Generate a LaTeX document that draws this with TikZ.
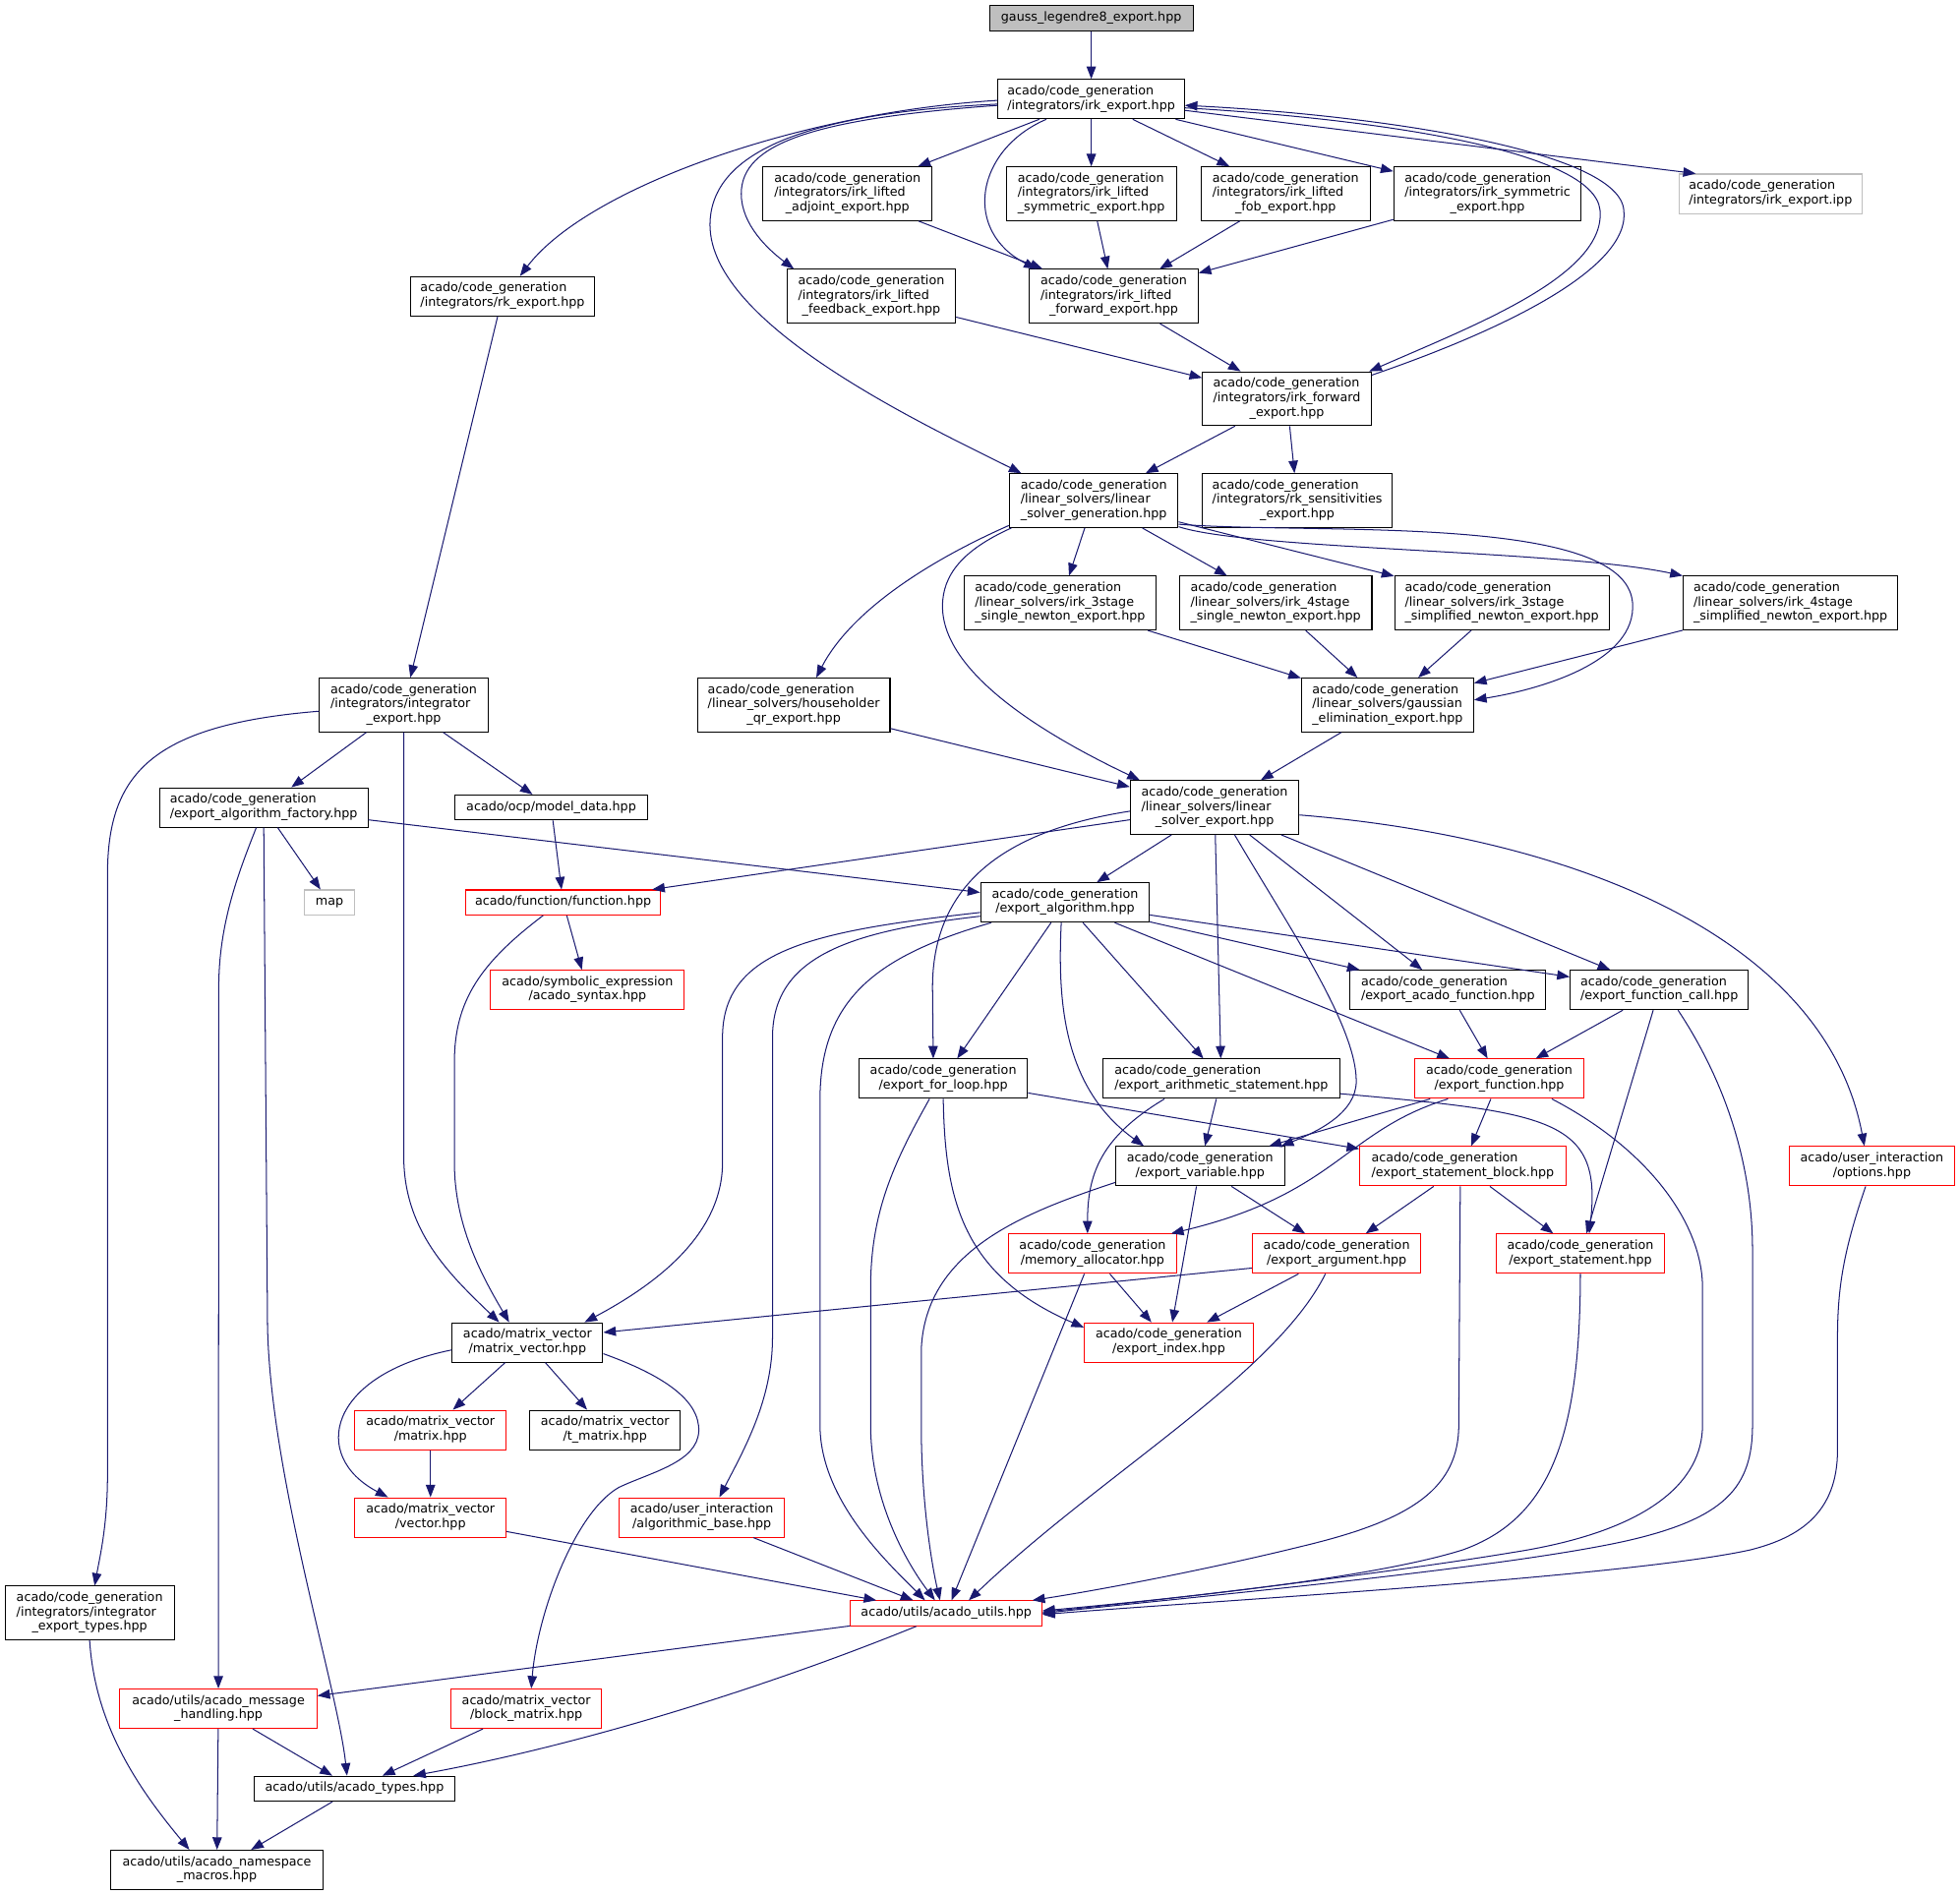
\documentclass[tikz,border=0pt]{standalone}
\usepackage{fontspec}
\setmainfont{DejaVu Sans}
\usetikzlibrary{arrows.meta}
\definecolor{edgeblue}{RGB}{25, 25, 112}
\definecolor{truncred}{RGB}{255, 0, 0}
\definecolor{extgrey}{RGB}{191, 191, 191}
\newcommand{\lastln}[1]{\multicolumn{1}{@{}c@{}}{#1}}
\newcommand{\fname}[1]{\begin{tabular}{@{}l@{}}#1\end{tabular}}
\tikzset{
  file/.style={draw=black, fill=white, line width=0.8pt, inner xsep=3pt, inner ysep=4.25pt,
    minimum width=135pt, font=\fontsize{10pt}{11.5pt}\selectfont},
  redfile/.style={file, draw=truncred},
  greyfile/.style={file, draw=extgrey},
  dep/.style={draw=edgeblue, line width=0.8pt, -{Triangle[length=10pt, width=7.5pt]}}
}

\begin{document}
\begin{tikzpicture}[x=1pt, y=-1pt]
  \fill[white] (0,0) rectangle (1568,1516);

  % Integrator headers
  \node[file, fill=extgrey, minimum width=163pt] (gauss) at (873,14.7) {\fname{gauss\_legendre8\_export.hpp}};
  \node[file, minimum width=149pt] (irkexp) at (873,79.3) {\fname{acado/code\_generation\\\lastln{/integrators/irk\_export.hpp}}};
  \node[file] (adjoint) at (678,155) {\fname{acado/code\_generation\\/integrators/irk\_lifted\\\lastln{\_adjoint\_export.hpp}}};
  \node[file, minimum width=136pt] (lsym) at (873,155) {\fname{acado/code\_generation\\/integrators/irk\_lifted\\\lastln{\_symmetric\_export.hpp}}};
  \node[file] (fob) at (1028.5,155) {\fname{acado/code\_generation\\/integrators/irk\_lifted\\\lastln{\_fob\_export.hpp}}};
  \node[file, minimum width=150pt] (irksym) at (1190,155) {\fname{acado/code\_generation\\/integrators/irk\_symmetric\\\lastln{\_export.hpp}}};
  \node[greyfile, minimum width=146.8pt] (ipp) at (1416.4,155) {\fname{acado/code\_generation\\\lastln{/integrators/irk\_export.ipp}}};
  \node[file, minimum width=147.5pt] (rkexp) at (402,237) {\fname{acado/code\_generation\\\lastln{/integrators/rk\_export.hpp}}};
  \node[file] (feedback) at (697,237) {\fname{acado/code\_generation\\/integrators/irk\_lifted\\\lastln{\_feedback\_export.hpp}}};
  \node[file] (lfwd) at (891,237) {\fname{acado/code\_generation\\/integrators/irk\_lifted\\\lastln{\_forward\_export.hpp}}};
  \node[file] (irkfwd) at (1029.5,319) {\fname{acado/code\_generation\\/integrators/irk\_forward\\\lastln{\_export.hpp}}};
  \node[file, minimum width=152pt] (rksens) at (1037.8,400.5) {\fname{acado/code\_generation\\/integrators/rk\_sensitivities\\\lastln{\_export.hpp}}};
  \node[file] (intexp) at (323,564) {\fname{acado/code\_generation\\/integrators/integrator\\\lastln{\_export.hpp}}};
  \node[file, minimum width=135.5pt] (intypes) at (71.7,1290.5) {\fname{acado/code\_generation\\/integrators/integrator\\\lastln{\_export\_types.hpp}}};

  % Linear solvers
  \node[file] (lsg) at (875,400.5) {\fname{acado/code\_generation\\/linear\_solvers/linear\\\lastln{\_solver\_generation.hpp}}};
  \node[file, minimum width=153pt] (s3single) at (848,482.5) {\fname{acado/code\_generation\\/linear\_solvers/irk\_3stage\\\lastln{\_single\_newton\_export.hpp}}};
  \node[file, minimum width=154pt] (s4single) at (1020.5,482.5) {\fname{acado/code\_generation\\/linear\_solvers/irk\_4stage\\\lastln{\_single\_newton\_export.hpp}}};
  \node[file, minimum width=171.7pt] (s3simp) at (1201.5,482.5) {\fname{acado/code\_generation\\/linear\_solvers/irk\_3stage\\\lastln{\_simplified\_newton\_export.hpp}}};
  \node[file, minimum width=171.8pt] (s4simp) at (1432.4,482.5) {\fname{acado/code\_generation\\/linear\_solvers/irk\_4stage\\\lastln{\_simplified\_newton\_export.hpp}}};
  \node[file, minimum width=154pt] (householder) at (635,564) {\fname{acado/code\_generation\\/linear\_solvers/householder\\\lastln{\_qr\_export.hpp}}};
  \node[file, minimum width=137.7pt] (gaussian) at (1110,564) {\fname{acado/code\_generation\\/linear\_solvers/gaussian\\\lastln{\_elimination\_export.hpp}}};
  \node[file] (lse) at (971.7,646) {\fname{acado/code\_generation\\/linear\_solvers/linear\\\lastln{\_solver\_export.hpp}}};

  % Export classes
  \node[file, minimum width=166.5pt] (factory) at (211,646) {\fname{acado/code\_generation\\\lastln{/export\_algorithm\_factory.hpp}}};
  \node[file, minimum width=154pt] (modeldata) at (441,646) {\fname{acado/ocp/model\_data.hpp}};
  \node[greyfile, minimum width=40pt] (map) at (263.6,722) {\fname{map}};
  \node[redfile, minimum width=156pt] (function) at (450.5,722) {\fname{acado/function/function.hpp}};
  \node[file] (ealg) at (852,722) {\fname{acado/code\_generation\\\lastln{/export\_algorithm.hpp}}};
  \node[redfile, minimum width=155pt] (syntax) at (470,792) {\fname{acado/symbolic\_expression\\\lastln{/acado\_syntax.hpp}}};
  \node[file, minimum width=156.5pt] (eacfun) at (1158.4,792) {\fname{acado/code\_generation\\\lastln{/export\_acado\_function.hpp}}};
  \node[file, minimum width=142.6pt] (efcall) at (1327.4,792) {\fname{acado/code\_generation\\\lastln{/export\_function\_call.hpp}}};
  \node[file] (forloop) at (754.6,863) {\fname{acado/code\_generation\\\lastln{/export\_for\_loop.hpp}}};
  \node[file, minimum width=190pt] (arith) at (977,863) {\fname{acado/code\_generation\\\lastln{/export\_arithmetic\_statement.hpp}}};
  \node[redfile, minimum width=135.6pt] (efun) at (1199.4,863) {\fname{acado/code\_generation\\\lastln{/export\_function.hpp}}};
  \node[file] (evar) at (960,933) {\fname{acado/code\_generation\\\lastln{/export\_variable.hpp}}};
  \node[redfile, minimum width=164.8pt] (sblock) at (1170.2,933) {\fname{acado/code\_generation\\\lastln{/export\_statement\_block.hpp}}};
  \node[redfile, minimum width=132.5pt] (options) at (1497.5,933) {\fname{acado/user\_interaction\\\lastln{/options.hpp}}};
  \node[redfile] (memalloc) at (874,1003) {\fname{acado/code\_generation\\\lastln{/memory\_allocator.hpp}}};
  \node[redfile] (eargs) at (1069.3,1003) {\fname{acado/code\_generation\\\lastln{/export\_argument.hpp}}};
  \node[redfile] (estmt) at (1264.3,1003) {\fname{acado/code\_generation\\\lastln{/export\_statement.hpp}}};
  \node[redfile] (eindex) at (935,1074) {\fname{acado/code\_generation\\\lastln{/export\_index.hpp}}};

  % Matrix / utils
  \node[file, minimum width=120.5pt] (mv) at (422,1074) {\fname{acado/matrix\_vector\\\lastln{/matrix\_vector.hpp}}};
  \node[redfile, minimum width=121pt] (matrix) at (344.4,1144) {\fname{acado/matrix\_vector\\\lastln{/matrix.hpp}}};
  \node[file, minimum width=120.5pt] (tmatrix) at (484,1144) {\fname{acado/matrix\_vector\\\lastln{/t\_matrix.hpp}}};
  \node[redfile, minimum width=121pt] (vector) at (344.4,1214) {\fname{acado/matrix\_vector\\\lastln{/vector.hpp}}};
  \node[redfile, minimum width=132.4pt] (algbase) at (561.5,1214) {\fname{acado/user\_interaction\\\lastln{/algorithmic\_base.hpp}}};
  \node[redfile, minimum width=153pt] (utils) at (757,1290.7) {\fname{acado/utils/acado\_utils.hpp}};
  \node[redfile, minimum width=157.7pt] (message) at (174.7,1367) {\fname{acado/utils/acado\_message\\\lastln{\_handling.hpp}}};
  \node[redfile, minimum width=120.5pt] (blockm) at (421,1367) {\fname{acado/matrix\_vector\\\lastln{/block\_matrix.hpp}}};
  \node[file, minimum width=160.5pt] (types) at (283.6,1431) {\fname{acado/utils/acado\_types.hpp}};
  \node[file, minimum width=170pt] (nsmacros) at (173.5,1496) {\fname{acado/utils/acado\_namespace\\\lastln{\_macros.hpp}}};

  % irk_export includes
  \draw[dep] (gauss) -- (irkexp);
  \draw[dep] ([shift={(0,1)}]irkexp.west) .. controls (640,90) and (470,150) .. ([shift={(14,0)}]rkexp.north);
  \draw[dep] (irkexp) -- (adjoint);
  \draw[dep] (irkexp) -- (lsym);
  \draw[dep] (irkexp) -- (fob);
  \draw[dep] (irkexp) -- (irksym);
  \draw[dep] ([shift={(0,9)}]irkexp.east) -- ([shift={(14,0)}]ipp.north west);
  \draw[dep] ([shift={(0,5)}]irkexp.west) .. controls (650,95) and (593,115) .. (593,155) .. controls (593,180) and (615,200) .. ([shift={(6,0)}]feedback.north west);
  \draw[dep] ([shift={(-36,0)}]irkexp.south) .. controls (780,120) and (770,185) .. ([shift={(6,0)}]lfwd.north west);
  \draw[dep] ([shift={(0,4)}]irkexp.west) .. controls (650,90) and (568,120) .. (568,180) .. controls (568,260) and (740,340) .. ([shift={(10,0)}]lsg.north west);
  \draw[dep] ([shift={(0,7)}]irkexp.east) .. controls (1100,95) and (1275,120) .. (1280,168) .. controls (1285,220) and (1180,260) .. ([shift={(-2,0)}]irkfwd.north east);
  \draw[dep] ([shift={(0,3)}]irkfwd.north east) .. controls (1200,265) and (1305,215) .. (1299,168) .. controls (1295,120) and (1100,92) .. ([shift={(0,5)}]irkexp.east);

  % lifted variants
  \draw[dep] (adjoint) -- (lfwd);
  \draw[dep] (lsym) -- (lfwd);
  \draw[dep] (fob) -- (lfwd);
  \draw[dep] (irksym) -- (lfwd);
  \draw[dep] (feedback) -- (irkfwd);
  \draw[dep] (lfwd) -- (irkfwd);
  \draw[dep] (irkfwd) -- (lsg);
  \draw[dep] (irkfwd) -- (rksens);
  \draw[dep] (rkexp) -- (intexp);

  % linear solver generation
  \draw[dep] (lsg) -- (s3single);
  \draw[dep] (lsg) -- (s4single);
  \draw[dep] (lsg) -- (s3simp);
  \draw[dep] ([shift={(0,-1)}]lsg.south east) .. controls (1000,440) and (1250,440) .. (s4simp.north west);
  \draw[dep] ([shift={(0,-3)}]lsg.south east) .. controls (1050,428) and (1300,410) .. (1306,482) .. controls (1310,530) and (1230,552) .. ([shift={(0,-4)}]gaussian.east);
  \draw[dep] ([shift={(0,-2)}]lsg.south west) .. controls (740,450) and (680,490) .. ([shift={(18,0)}]householder.north);
  \draw[dep] ([shift={(2,0)}]lsg.south west) .. controls (770,440) and (754,460) .. (754,485) .. controls (754,540) and (840,590) .. ([shift={(8,0)}]lse.north west);
  \draw[dep] (s3single) -- (gaussian);
  \draw[dep] (s4single) -- (gaussian);
  \draw[dep] (s3simp) -- (gaussian);
  \draw[dep] (s4simp) -- (gaussian);
  \draw[dep] (householder) -- (lse);
  \draw[dep] (gaussian) -- (lse);

  % integrator export
  \draw[dep] (intexp) -- (factory);
  \draw[dep] (intexp) -- (modeldata);
  \draw[dep] (intexp.south) -- (323,925) .. controls (323,985) and (360,1020) .. ([shift={(38,0)}]mv.north west);
  \draw[dep] ([shift={(0,5)}]intexp.west) .. controls (120,580) and (86,620) .. (86,700) -- (86,1180) .. controls (86,1220) and (80,1245) .. ([shift={(4,0)}]intypes.north);

  % algorithm factory
  \draw[dep] (factory) -- (map);
  \draw[dep] (factory) -- (ealg);
  \draw[dep] ([shift={(-6,0)}]factory.south) .. controls (190,700) and (175,740) .. (175,790) -- (message.north);
  \draw[dep] (factory.south) -- (214,1060) .. controls (216,1180) and (270,1350) .. ([shift={(-6,0)}]types.north);

  % model data, function
  \draw[dep] (modeldata) -- (function);
  \draw[dep] (function) -- (syntax);
  \draw[dep] ([shift={(-16,0)}]function.south) .. controls (385,770) and (363.5,800) .. (363.5,850) -- (363.5,930) .. controls (363.5,980) and (385,1020) .. ([shift={(46,0)}]mv.north west);

  % linear solver export
  \draw[dep] (lse) -- (function);
  \draw[dep] (lse) -- (ealg);
  \draw[dep] ([shift={(0,3)}]lse.west) .. controls (800,665) and (746,710) .. (746,790) -- ([shift={(-8,0)}]forloop.north);
  \draw[dep] (lse) -- (arith);
  \draw[dep] ([shift={(16,0)}]lse.south) .. controls (1030,740) and (1085,820) .. (1085,865) .. controls (1085,890) and (1055,905) .. ([shift={(-3,0)}]evar.north east);
  \draw[dep] (lse) -- (eacfun);
  \draw[dep] (lse) -- (efcall);
  \draw[dep] ([shift={(0,6)}]lse.east) .. controls (1260,670) and (1460,750) .. ([shift={(-6,0)}]options.north);

  % export algorithm
  \draw[dep] (ealg) -- (forloop);
  \draw[dep] (ealg) -- (arith);
  \draw[dep] ([shift={(-3,0)}]ealg.south) .. controls (846,800) and (850,870) .. ([shift={(23,0)}]evar.north west);
  \draw[dep] (ealg) -- (eacfun);
  \draw[dep] (ealg) -- (efcall);
  \draw[dep] (ealg) -- (efun);
  \draw[dep] ([shift={(0,8)}]ealg.west) .. controls (650,745) and (578,760) .. (578,830) -- (578,930) .. controls (578,990) and (520,1030) .. ([shift={(-15,0)}]mv.north east);
  \draw[dep] ([shift={(0,11)}]ealg.west) .. controls (680,745) and (618,765) .. (618,830) -- (618,1070) .. controls (618,1120) and (595,1160) .. ([shift={(14,0)}]algbase.north);
  \draw[dep] ([shift={(9,0)}]ealg.south west) .. controls (700,765) and (656,800) .. (656,880) -- (656,1140) .. controls (656,1200) and (710,1250) .. ([shift={(-17,0)}]utils.north);

  % acado function, function call
  \draw[dep] (eacfun) -- (efun);
  \draw[dep] (efcall) -- (efun);
  \draw[dep] (efcall) -- (estmt);
  \draw[dep] ([shift={(15,0)}]efcall.south) .. controls (1390,880) and (1402,950) .. (1402,1000) -- (1402,1140) .. controls (1402,1190) and (1380,1215) .. (1300,1233) .. controls (1200,1255) and (950,1278) .. (utils.east);

  % for loop
  \draw[dep] ([shift={(-11,0)}]forloop.south) .. controls (715,930) and (696.5,970) .. (696.5,1030) -- (696.5,1140) .. controls (696.5,1200) and (725,1250) .. ([shift={(-9,0)}]utils.north);
  \draw[dep] (forloop.south) .. controls (756,960) and (770,1020) .. ([shift={(0,-12)}]eindex.west);
  \draw[dep] (forloop) -- (sblock);

  % arithmetic statement
  \draw[dep] (arith) -- (evar);
  \draw[dep] ([shift={(50,0)}]arith.south west) .. controls (880,910) and (870,940) .. ([shift={(-4,0)}]memalloc.north);
  \draw[dep] ([shift={(0,12)}]arith.east) .. controls (1240,890) and (1282,895) .. ([shift={(7,0)}]estmt.north);

  % export function
  \draw[dep] (efun) -- (evar);
  \draw[dep] (efun) -- (sblock);
  \draw[dep] ([shift={(-41,0)}]efun.south) .. controls (1075,905) and (1070,955) .. ([shift={(-5,0)}]memalloc.north east);
  \draw[dep] ([shift={(42,0)}]efun.south) .. controls (1320,920) and (1362,980) .. (1362,1030) -- (1362,1140) .. controls (1362,1185) and (1320,1225) .. (1210,1242) .. controls (1120,1257) and (950,1278) .. ([shift={(0,-1)}]utils.east);

  % export variable
  \draw[dep] (evar) -- (eargs);
  \draw[dep] (evar) -- (eindex);
  \draw[dep] ([shift={(0,13)}]evar.west) .. controls (820,970) and (740,1000) .. (737,1080) -- (737,1140) .. controls (737,1200) and (745,1250) .. ([shift={(-5,0)}]utils.north);

  % statement block
  \draw[dep] (sblock) -- (eargs);
  \draw[dep] (sblock) -- (estmt);
  \draw[dep] ([shift={(-2,0)}]sblock.south) -- (1167,1140) .. controls (1167,1190) and (1130,1215) .. (1050,1235) .. controls (970,1255) and (880,1272) .. ([shift={(-8,0)}]utils.north east);

  % allocator, argument, statement, options
  \draw[dep] (memalloc) -- (eindex);
  \draw[dep] (memalloc) -- (utils);
  \draw[dep] (eargs) -- (eindex);
  \draw[dep] ([shift={(0,11.5)}]eargs.west) -- ([shift={(0,-8)}]mv.east);
  \draw[dep] ([shift={(-9,0)}]eargs.south) .. controls (1020,1100) and (880,1180) .. ([shift={(18,0)}]utils.north);
  \draw[dep] (estmt.south) .. controls (1264,1150) and (1240,1215) .. (1170,1240) .. controls (1100,1262) and (950,1278) .. ([shift={(0,-2)}]utils.east);
  \draw[dep] ([shift={(-5,0)}]options.south) .. controls (1475,1000) and (1470,1030) .. (1470,1070) -- (1470,1160) .. controls (1470,1210) and (1440,1230) .. (1400,1240) .. controls (1300,1262) and (950,1282) .. ([shift={(0,1)}]utils.east);

  % matrix vector
  \draw[dep] (mv) -- (matrix);
  \draw[dep] (mv) -- (tmatrix);
  \draw[dep] ([shift={(0,6)}]mv.west) .. controls (262,1100) and (248,1165) .. ([shift={(-34,0)}]vector.north);
  \draw[dep] ([shift={(0,9)}]mv.east) .. controls (530,1100) and (560,1120) .. (559,1145) .. controls (558,1170) and (520,1178) .. (495,1190) .. controls (460,1210) and (430,1290) .. ([shift={(4,0)}]blockm.north);
  \draw[dep] (matrix) -- (vector);
  \draw[dep] (vector) -- (utils);
  \draw[dep] (algbase) -- (utils);

  % utils and types
  \draw[dep] (utils) -- (message);
  \draw[dep] ([shift={(-24,0)}]utils.south) .. controls (600,1355) and (455,1398) .. ([shift={(47,0)}]types.north);
  \draw[dep] (message) -- (types);
  \draw[dep] (message) -- (nsmacros);
  \draw[dep] (blockm) -- (types);
  \draw[dep] (types) -- (nsmacros);
  \draw[dep] (intypes.south) .. controls (76,1380) and (110,1430) .. ([shift={(-22,0)}]nsmacros.north);
\end{tikzpicture}
\end{document}
